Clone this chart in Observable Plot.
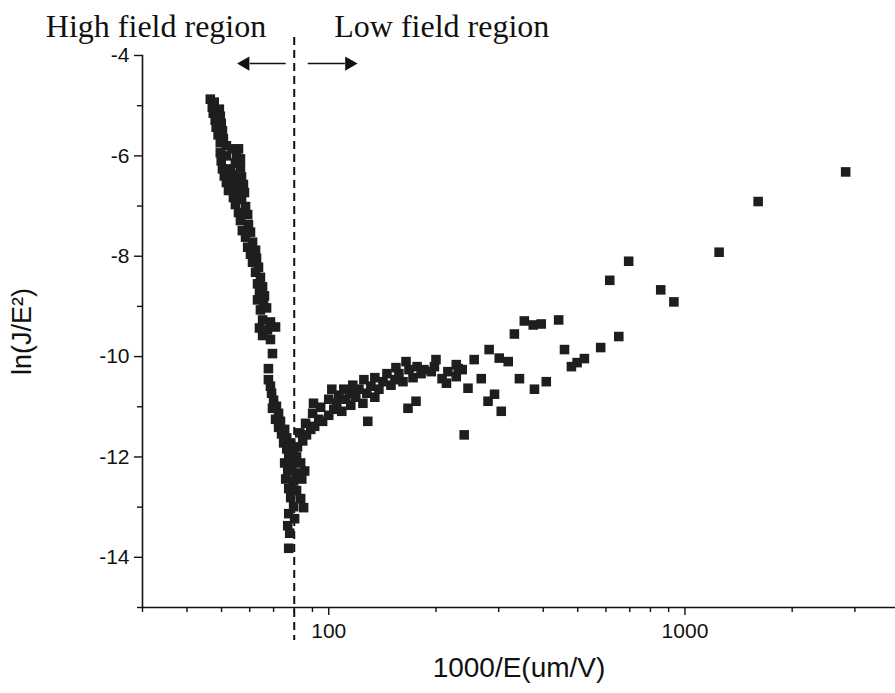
<!DOCTYPE html>
<html><head><meta charset="utf-8">
<script src="https://cdn.jsdelivr.net/npm/d3@7"></script>
<script src="https://cdn.jsdelivr.net/npm/@observablehq/plot@0.6"></script>
<style>body{margin:0;background:#fff;}</style>
</head><body><div id="chart"></div>
<script>
// High-field branch (1000/E, ln(J/E^2))
const highX = [46.5,47.7,47.1,49.3,47.4,49.6,48.0,49.9,48.3,50.3,48.9,50.6,49.6,51.6,53.7,55.8,49.6,51.6,55.1,56.5,49.9,54.7,50.3,53.0,56.5,50.9,53.7,56.9,51.6,54.3,57.6,52.3,55.4,58.0,54.0,56.9,54.7,58.4,55.8,59.2,56.5,59.5,57.2,60.3,58.4,61.1,59.2,62.3,60.3,62.7,61.1,63.5,62.3,64.3,63.1,65.2,63.9,66.0,63.1,65.6,64.3,66.9,65.2,68.6,63.9,67.3,70.9,65.2,68.6,69.5,67.7,67.7,68.6,69.1,70.0,71.3,69.5,72.3,70.9,73.2,72.3,75.2,73.7,76.2,74.7,78.2,76.2,79.7,77.2,81.2,75.2,78.7,83.4,76.7,81.2,85.6,75.7,79.7,84.0,77.2,81.2,78.2,83.4,79.7,85.0,77.2,80.2,76.7,77.7,77.2];
const highY = [-4.87,-4.93,-5.03,-5.07,-5.15,-5.21,-5.29,-5.35,-5.43,-5.50,-5.58,-5.66,-5.74,-5.80,-5.86,-5.86,-5.94,-6.00,-6.00,-6.06,-6.10,-6.14,-6.26,-6.26,-6.24,-6.40,-6.38,-6.42,-6.53,-6.53,-6.57,-6.69,-6.69,-6.73,-6.83,-6.87,-6.97,-7.01,-7.13,-7.17,-7.29,-7.37,-7.49,-7.52,-7.62,-7.72,-7.82,-7.88,-7.96,-8.04,-8.12,-8.22,-8.32,-8.42,-8.55,-8.61,-8.71,-8.79,-8.87,-8.95,-9.07,-9.03,-9.27,-9.31,-9.43,-9.47,-9.41,-9.58,-9.66,-9.94,-10.24,-10.46,-10.59,-10.73,-10.87,-10.99,-11.03,-11.13,-11.25,-11.29,-11.41,-11.45,-11.54,-11.62,-11.72,-11.72,-11.84,-11.88,-11.98,-12.00,-12.12,-12.16,-12.12,-12.28,-12.32,-12.28,-12.44,-12.48,-12.44,-12.63,-12.67,-12.81,-12.83,-12.99,-13.01,-13.13,-13.23,-13.37,-13.52,-13.82];
// Low-field branch
const lowX = [81.7,84.5,82.9,86.6,89.0,86.1,91.3,93.7,90.1,96.1,100.0,94.9,103.3,100.0,105.3,108.8,102.0,106.7,111.7,115.3,110.2,114.6,119.1,121.5,124.7,116.8,127.9,131.3,125.5,134.7,138.3,142.0,134.7,145.7,149.5,153.4,157.4,161.6,154.4,168.0,172.4,164.8,177.0,181.6,166.9,175.8,128.7,90.6,185,198,200,208,214,216,194,228,237,231,228,256,282,301,319,332,354,375,395,442,268,246,292,280,305,240,343,378,408,459,480,498,522,580,652,615,695,855,931,1247,1605,2826];
const lowY = [-11.80,-11.68,-11.52,-11.56,-11.45,-11.33,-11.39,-11.25,-11.13,-11.29,-11.17,-11.01,-11.05,-10.85,-10.93,-11.09,-10.65,-10.77,-10.85,-10.97,-10.65,-10.73,-10.81,-10.65,-10.93,-10.57,-10.73,-10.59,-10.46,-10.81,-10.65,-10.50,-10.42,-10.34,-10.57,-10.46,-10.34,-10.50,-10.22,-10.26,-10.42,-10.10,-10.20,-10.34,-11.03,-10.89,-11.29,-10.93,-10.26,-10.20,-10.06,-10.44,-10.53,-10.30,-10.30,-10.40,-10.26,-10.24,-10.16,-10.06,-9.86,-10.03,-10.10,-9.55,-9.29,-9.37,-9.35,-9.27,-10.44,-10.63,-10.75,-10.89,-11.09,-11.56,-10.44,-10.65,-10.50,-9.86,-10.20,-10.12,-10.04,-9.82,-9.60,-8.48,-8.10,-8.67,-8.91,-7.92,-6.91,-6.32];

const xMajor = [100, 1000];
const xMinor = [30,40,50,60,70,80,90,200,300,400,500,600,700,800,900,2000,3000];
const yMajor = [-4,-6,-8,-10,-12,-14];
const yMinor = [-5,-7,-9,-11,-13,-15];
const boundaryX = 80;
const dashSpan = [-3.64, -15.66];
const arrowY = -4.16;
const leftArrow = {from: 75.7, to: 60, head: 58.3};
const rightArrow = {from: 87.3, to: 111, head: 114.2};
const regionLabels = ["High field region", "Low field region"];
const xLabel = "1000/E(um/V)";
const yLabel = "ln(J/E²)";

const points = highX.map((x, i) => ({x, y: highY[i]}))
  .concat(lowX.map((x, i) => ({x, y: lowY[i]})));

const serif = "'Liberation Serif', 'Times New Roman', serif";

const chart = Plot.plot({
  width: 895, height: 693,
  marginLeft: 142, marginRight: 0, marginTop: 55, marginBottom: 86,
  style: {fontFamily: "'Liberation Sans', Arial, sans-serif", background: "#fff", color: "#111", overflow: "visible"},
  x: {type: "log", domain: [30, 3900], axis: null},
  y: {domain: [-15, -4], axis: null},
  marks: [
    Plot.frame({anchor: "left", stroke: "#111", strokeWidth: 1.6}),
    Plot.frame({anchor: "bottom", stroke: "#111", strokeWidth: 1.6}),
    Plot.axisX(xMajor, {tickSize: 8, tickPadding: 8, tickFormat: d => String(d), fontSize: 21, label: null, stroke: "#111", strokeWidth: 1.4}),
    Plot.axisX(xMinor, {tickSize: 5, tickFormat: () => "", label: null, stroke: "#111", strokeWidth: 1.4}),
    Plot.axisY(yMajor, {tickSize: 8, tickPadding: 5, tickFormat: d => String(d), fontSize: 21, label: null, stroke: "#111", strokeWidth: 1.4}),
    Plot.axisY(yMinor, {tickSize: 5, tickFormat: () => "", label: null, stroke: "#111", strokeWidth: 1.4}),
    Plot.text([xLabel], {frameAnchor: "bottom", lineAnchor: "middle", dy: 61, fontSize: 28, fill: "#111"}),
    Plot.text([yLabel], {frameAnchor: "left", textAnchor: "middle", lineAnchor: "middle", dx: -120, rotate: -90, fontSize: 27, fill: "#111"}),
    Plot.ruleX([boundaryX], {y1: dashSpan[0], y2: dashSpan[1], stroke: "#111", strokeWidth: 2, strokeDasharray: "8,5"}),
    Plot.link([leftArrow, rightArrow], {x1: "from", x2: "to", y1: arrowY, y2: arrowY, stroke: "#111", strokeWidth: 1.6}),
    Plot.dot([leftArrow], {x: "head", y: arrowY, symbol: "triangle", r: 5.3, rotate: -90, fill: "#111"}),
    Plot.dot([rightArrow], {x: "head", y: arrowY, symbol: "triangle", r: 5.3, rotate: 90, fill: "#111"}),
    Plot.text([regionLabels[0]], {x: boundaryX, frameAnchor: "top", lineAnchor: "middle", dy: -29, dx: -28, textAnchor: "end", fontSize: 32, fontFamily: serif, fill: "#111"}),
    Plot.text([regionLabels[1]], {x: boundaryX, frameAnchor: "top", lineAnchor: "middle", dy: -29, dx: 40, textAnchor: "start", fontSize: 32, fontFamily: serif, fill: "#111"}),
    Plot.dot(points, {x: "x", y: "y", symbol: "square", r: 5.4, fill: "#1e1e1e", stroke: "none"})
  ]
});
document.getElementById("chart").appendChild(chart);
</script>
</body></html>
